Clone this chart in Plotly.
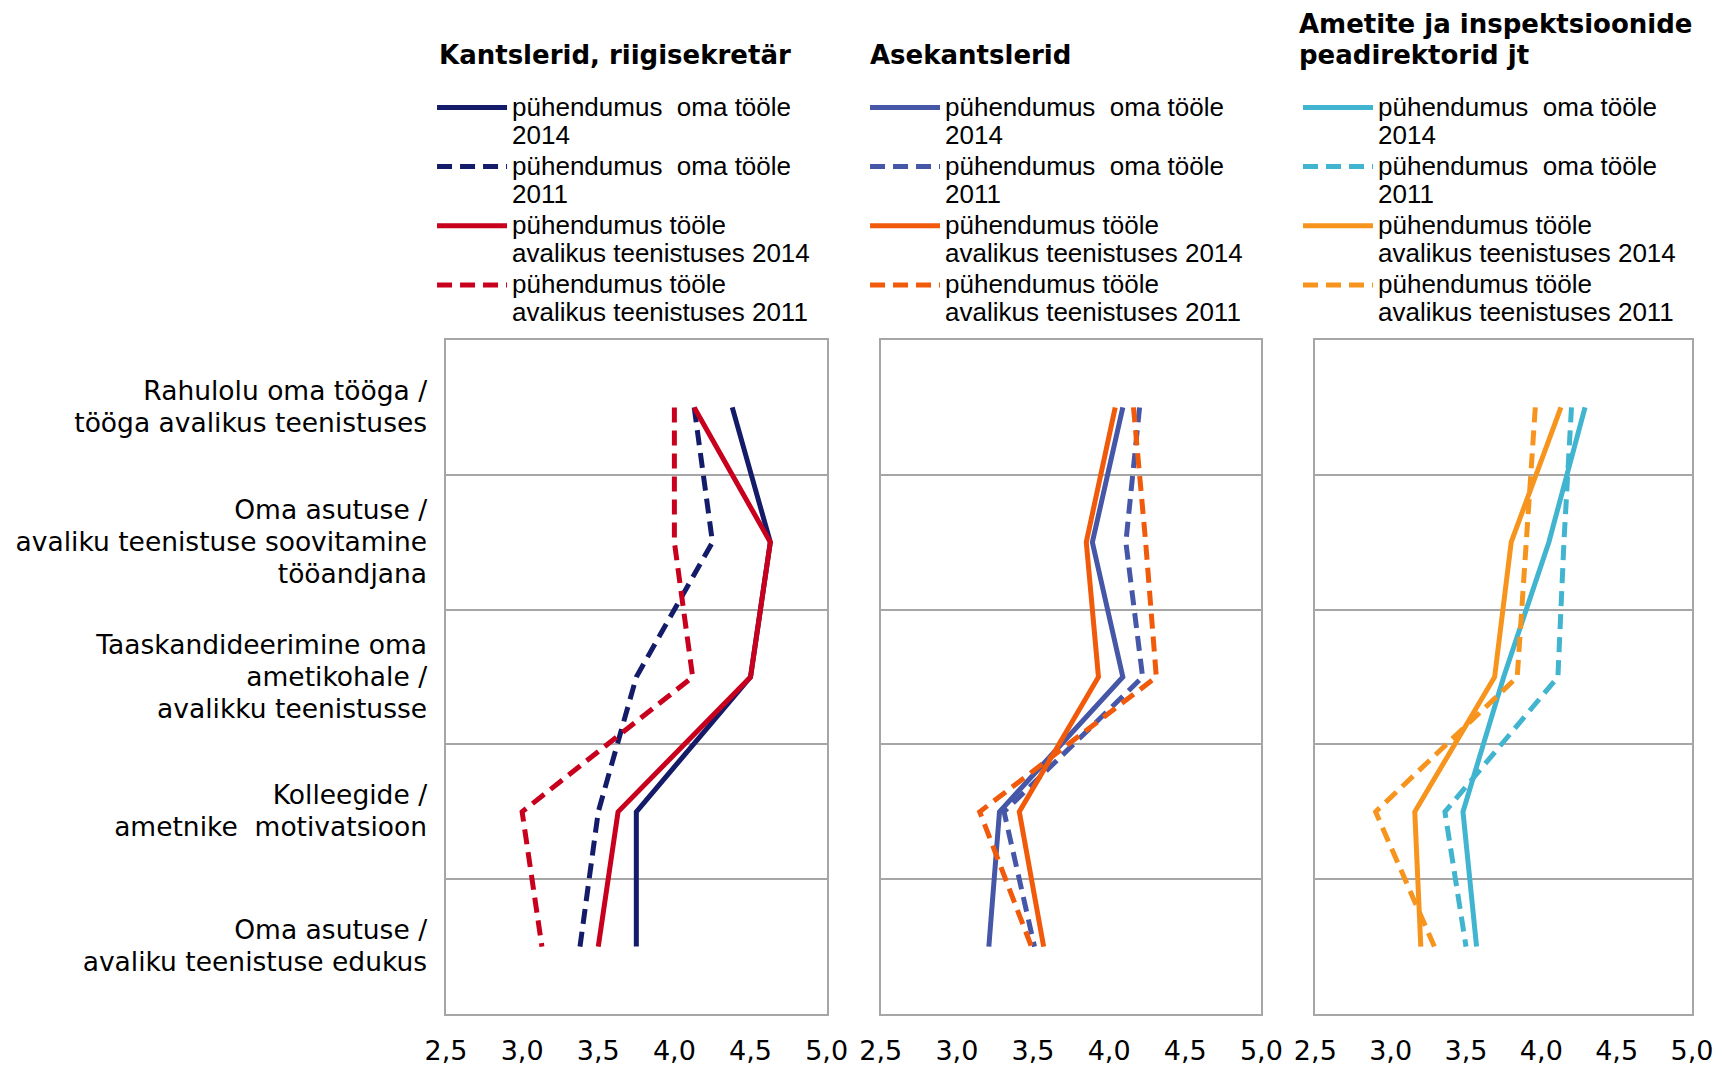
import plotly.graph_objects as go

# ---------------- data ----------------
categories = [
    ["Rahulolu oma tööga /", "tööga avalikus teenistuses"],
    ["Oma asutuse /", "avaliku teenistuse soovitamine", "tööandjana"],
    ["Taaskandideerimine oma", "ametikohale /", "avalikku teenistusse"],
    ["Kolleegide /", "ametnike  motivatsioon"],
    ["Oma asutuse /", "avaliku teenistuse edukus"],
]
cat_pos = [0.5, 1.5, 2.5, 3.5, 4.5]

panel_titles = [
    ["Kantslerid, riigisekretär"],
    ["Asekantslerid"],
    ["Ametite ja inspektsioonide", "peadirektorid jt"],
]

series_names = [
    ["pühendumus  oma tööle", "2014"],
    ["pühendumus  oma tööle", "2011"],
    ["pühendumus tööle", "avalikus teenistuses 2014"],
    ["pühendumus tööle", "avalikus teenistuses 2011"],
]

# Kantslerid, riigisekretär
k_oma_2014 = [4.38, 4.63, 4.50, 3.75, 3.75]
k_oma_2011 = [4.13, 4.25, 3.75, 3.50, 3.38]
k_av_2014 = [4.13, 4.63, 4.50, 3.63, 3.50]
k_av_2011 = [4.00, 4.00, 4.12, 3.00, 3.13]

# Asekantslerid
a_oma_2014 = [4.09, 3.89, 4.09, 3.28, 3.21]
a_oma_2011 = [4.20, 4.11, 4.22, 3.31, 3.51]
a_av_2014 = [4.04, 3.85, 3.93, 3.41, 3.57]
a_av_2011 = [4.16, 4.24, 4.31, 3.15, 3.49]

# Ametite ja inspektsioonide peadirektorid jt
p_oma_2014 = [4.29, 4.05, 3.75, 3.48, 3.57]
p_oma_2011 = [4.20, 4.15, 4.11, 3.36, 3.50]
p_av_2014 = [4.13, 3.80, 3.69, 3.16, 3.20]
p_av_2011 = [3.96, 3.90, 3.84, 2.90, 3.29]

x_ticks = [2.5, 3.0, 3.5, 4.0, 4.5, 5.0]

# ---------------- styles ----------------
panels = [
    [k_oma_2014, k_oma_2011, k_av_2014, k_av_2011],
    [a_oma_2014, a_oma_2011, a_av_2014, a_av_2011],
    [p_oma_2014, p_oma_2011, p_av_2014, p_av_2011],
]
panel_colors = [
    ["#141C6A", "#141C6A", "#C8001E", "#C8001E"],
    ["#4657A8", "#4657A8", "#F05A0A", "#F05A0A"],
    ["#41B4D0", "#41B4D0", "#F7941E", "#F7941E"],
]
dashes = ["solid", "15px,8px", "solid", "15px,8px"]
domains = [[0.0, 0.3055], [0.3489, 0.6544], [0.6977, 1.0]]
legend_x = [-0.0112, 0.3363, 0.6838]
title_x = [-0.0072, 0.3387, 0.683]

frame_color = "#A6A6A6"


def styled(lines, px):
    return "<br>".join(f"<span style='font-size:{px}px'>{t}</span>" for t in lines)


legend_names = [styled(n, 26) for n in series_names]
cat_labels = [styled(c, 26.5) for c in categories]
title_texts = ["<b>" + styled(t, 26) + "</b>" for t in panel_titles]

fig = go.Figure()

for p in range(3):
    xa = "x" if p == 0 else f"x{p+1}"
    ya = "y" if p == 0 else f"y{p+1}"
    lg = "legend" if p == 0 else f"legend{p+1}"
    for s in range(4):
        fig.add_trace(go.Scatter(
            x=panels[p][s], y=cat_pos, mode="lines",
            name=legend_names[s],
            line=dict(color=panel_colors[p][s], width=5, dash=dashes[s]),
            xaxis=xa, yaxis=ya, legend=lg,
            hoverinfo="x",
        ))

layout = dict(
    width=1724, height=1058,
    margin=dict(l=438, r=40, t=332, b=52, autoexpand=False),
    paper_bgcolor="white", plot_bgcolor="white",
    separators=", ",
    showlegend=True,
    font=dict(family="DejaVu Sans", color="black"),
)

for p in range(3):
    sfx = "" if p == 0 else str(p + 1)
    layout["xaxis" + sfx] = dict(
        domain=domains[p], range=[2.5, 5.0], anchor="y" + sfx,
        tickmode="array", tickvals=x_ticks, tickformat=".1f",
        showgrid=False, zeroline=False, automargin=False,
        showline=True, mirror=True, linecolor=frame_color, linewidth=2,
        ticks="", ticklabelstandoff=12,
        tickfont=dict(family="DejaVu Sans", size=27, color="black"),
        fixedrange=True,
    )
    layout["yaxis" + sfx] = dict(
        domain=[0, 1], range=[5, 0], anchor="x" + sfx,
        tickmode="array", tickvals=cat_pos,
        ticktext=cat_labels if p == 0 else [""] * 5,
        showticklabels=(p == 0),
        showgrid=False, zeroline=False, automargin=False,
        minor=dict(tick0=0, dtick=1, showgrid=True, gridcolor=frame_color,
                   gridwidth=1.5, ticks=""),
        showline=True, mirror=True, linecolor=frame_color, linewidth=2,
        ticks="", ticklabelstandoff=12,
        tickfont=dict(family="DejaVu Sans", size=24.6, color="black"),
        fixedrange=True,
    )
    layout["legend" if p == 0 else f"legend{p+1}"] = dict(
        x=legend_x[p], y=1.3755, xanchor="left", yanchor="top",
        xref="paper", yref="paper",
        font=dict(family="Liberation Sans", size=21.6, color="black"),
        itemwidth=70, valign="top", bgcolor="rgba(0,0,0,0)",
        borderwidth=0, traceorder="normal", tracegroupgap=0,
        itemclick=False, itemdoubleclick=False,
    )

fig.update_layout(**layout)

for p in range(3):
    fig.add_annotation(
        text=title_texts[p],
        x=title_x[p], y=1.3975, xref="paper", yref="paper",
        xanchor="left", yanchor="bottom", align="left", showarrow=False,
        font=dict(family="DejaVu Sans", size=23.5, color="black"),
    )

fig.write_html("out.html")
